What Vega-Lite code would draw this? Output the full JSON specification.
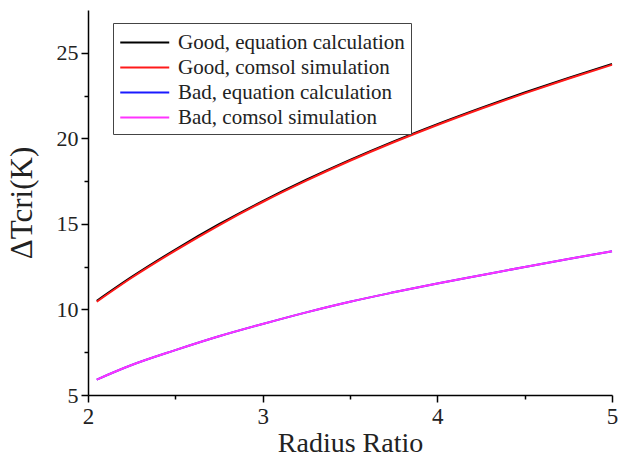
{
  "$schema": "https://vega.github.io/schema/vega-lite/v6.json",
  "width": 524,
  "height": 385,
  "autosize": {"type": "none"},
  "padding": {"left": 88, "top": 10, "right": 6, "bottom": 62},
  "background": "white",
  "config": {
    "view": {"stroke": null},
    "font": "Liberation Serif",
    "axis": {"grid": false, "domainColor": "black", "domainWidth": 1.5, "tickColor": "black", "tickWidth": 1.5, "labelColor": "#222", "titleColor": "#222", "labelFont": "Liberation Serif", "titleFont": "Liberation Serif", "titleFontWeight": "normal", "labelFontSize": 23, "titleFontSize": 28}
  },
  "datasets": {
    "curves": [
      {"r": 2.05, "v": 10.5, "s": "Good, equation calculation"},
      {"r": 2.25, "v": 11.9, "s": "Good, equation calculation"},
      {"r": 2.5, "v": 13.5, "s": "Good, equation calculation"},
      {"r": 2.75, "v": 14.98, "s": "Good, equation calculation"},
      {"r": 3.0, "v": 16.33, "s": "Good, equation calculation"},
      {"r": 3.25, "v": 17.58, "s": "Good, equation calculation"},
      {"r": 3.5, "v": 18.74, "s": "Good, equation calculation"},
      {"r": 3.75, "v": 19.82, "s": "Good, equation calculation"},
      {"r": 4.0, "v": 20.83, "s": "Good, equation calculation"},
      {"r": 4.25, "v": 21.78, "s": "Good, equation calculation"},
      {"r": 4.5, "v": 22.68, "s": "Good, equation calculation"},
      {"r": 4.75, "v": 23.53, "s": "Good, equation calculation"},
      {"r": 5.0, "v": 24.35, "s": "Good, equation calculation"},
      {"r": 2.05, "v": 5.9, "s": "Bad, equation calculation"},
      {"r": 2.25, "v": 6.75, "s": "Bad, equation calculation"},
      {"r": 2.5, "v": 7.62, "s": "Bad, equation calculation"},
      {"r": 2.75, "v": 8.43, "s": "Bad, equation calculation"},
      {"r": 3.0, "v": 9.15, "s": "Bad, equation calculation"},
      {"r": 3.25, "v": 9.83, "s": "Bad, equation calculation"},
      {"r": 3.5, "v": 10.45, "s": "Bad, equation calculation"},
      {"r": 3.75, "v": 11.0, "s": "Bad, equation calculation"},
      {"r": 4.0, "v": 11.52, "s": "Bad, equation calculation"},
      {"r": 4.25, "v": 12.0, "s": "Bad, equation calculation"},
      {"r": 4.5, "v": 12.48, "s": "Bad, equation calculation"},
      {"r": 4.75, "v": 12.95, "s": "Bad, equation calculation"},
      {"r": 5.0, "v": 13.4, "s": "Bad, equation calculation"}
    ],
    "sims": [
      {"r": 2.05, "v": 10.45, "s": "Good, comsol simulation"},
      {"r": 2.25, "v": 11.85, "s": "Good, comsol simulation"},
      {"r": 2.5, "v": 13.44, "s": "Good, comsol simulation"},
      {"r": 2.75, "v": 14.92, "s": "Good, comsol simulation"},
      {"r": 3.0, "v": 16.28, "s": "Good, comsol simulation"},
      {"r": 3.25, "v": 17.53, "s": "Good, comsol simulation"},
      {"r": 3.5, "v": 18.69, "s": "Good, comsol simulation"},
      {"r": 3.75, "v": 19.77, "s": "Good, comsol simulation"},
      {"r": 4.0, "v": 20.78, "s": "Good, comsol simulation"},
      {"r": 4.25, "v": 21.73, "s": "Good, comsol simulation"},
      {"r": 4.5, "v": 22.63, "s": "Good, comsol simulation"},
      {"r": 4.75, "v": 23.48, "s": "Good, comsol simulation"},
      {"r": 5.0, "v": 24.3, "s": "Good, comsol simulation"},
      {"r": 2.05, "v": 5.9, "s": "Bad, comsol simulation"},
      {"r": 2.25, "v": 6.75, "s": "Bad, comsol simulation"},
      {"r": 2.5, "v": 7.62, "s": "Bad, comsol simulation"},
      {"r": 2.75, "v": 8.43, "s": "Bad, comsol simulation"},
      {"r": 3.0, "v": 9.15, "s": "Bad, comsol simulation"},
      {"r": 3.25, "v": 9.83, "s": "Bad, comsol simulation"},
      {"r": 3.5, "v": 10.45, "s": "Bad, comsol simulation"},
      {"r": 3.75, "v": 11.0, "s": "Bad, comsol simulation"},
      {"r": 4.0, "v": 11.52, "s": "Bad, comsol simulation"},
      {"r": 4.25, "v": 12.0, "s": "Bad, comsol simulation"},
      {"r": 4.5, "v": 12.48, "s": "Bad, comsol simulation"},
      {"r": 4.75, "v": 12.95, "s": "Bad, comsol simulation"},
      {"r": 5.0, "v": 13.4, "s": "Bad, comsol simulation"}
    ]
  },
  "encoding": {
    "x": {"field": "r", "type": "quantitative", "title": "Radius Ratio",
      "scale": {"domain": [2, 5], "nice": false, "zero": false},
      "axis": {"values": [2, 2.5, 3, 3.5, 4, 4.5, 5], "format": "~g", "labelExpr": "datum.value % 1 === 0 ? datum.label : ''",
        "tickSize": {"condition": {"test": "datum.value % 1 !== 0", "value": 4}, "value": 7},
        "labelPadding": 3, "titleY": 34, "labelFlush": false}},
    "y": {"field": "v", "type": "quantitative", "title": "ΔTcri(K)",
      "scale": {"domain": [5, 27.5], "nice": false, "zero": false},
      "axis": {"values": [5, 7.5, 10, 12.5, 15, 17.5, 20, 22.5, 25], "format": "~g", "labelExpr": "datum.value % 5 === 0 ? datum.label : ''",
        "tickSize": {"condition": {"test": "datum.value % 5 !== 0", "value": 4}, "value": 7},
        "labelPadding": 3, "labelFontSize": 22, "titleFontSize": 31, "titleX": -50}},
    "color": {"field": "s", "type": "nominal",
      "scale": {"domain": ["Good, equation calculation", "Good, comsol simulation", "Bad, equation calculation", "Bad, comsol simulation"],
        "range": ["#000000", "#ff1a1a", "#1a1aff", "#ff33ff"]},
      "legend": {"title": null, "orient": "none", "legendX": 25, "legendY": 13,
        "labelFontSize": 21, "labelFont": "Liberation Serif", "labelColor": "#222", "labelLimit": 0,
        "symbolType": "M-1,0H3", "symbolSize": 600, "symbolStrokeWidth": 2, "labelOffset": 32,
        "rowPadding": 1, "padding": 6, "strokeColor": "#444", "fillColor": "white"}}
  },
  "layer": [
    {"data": {"name": "curves"}, "mark": {"type": "line", "strokeWidth": 2, "interpolate": "monotone"}},
    {"data": {"name": "sims"}, "mark": {"type": "line", "strokeWidth": 2, "interpolate": "monotone"}}
  ]
}
